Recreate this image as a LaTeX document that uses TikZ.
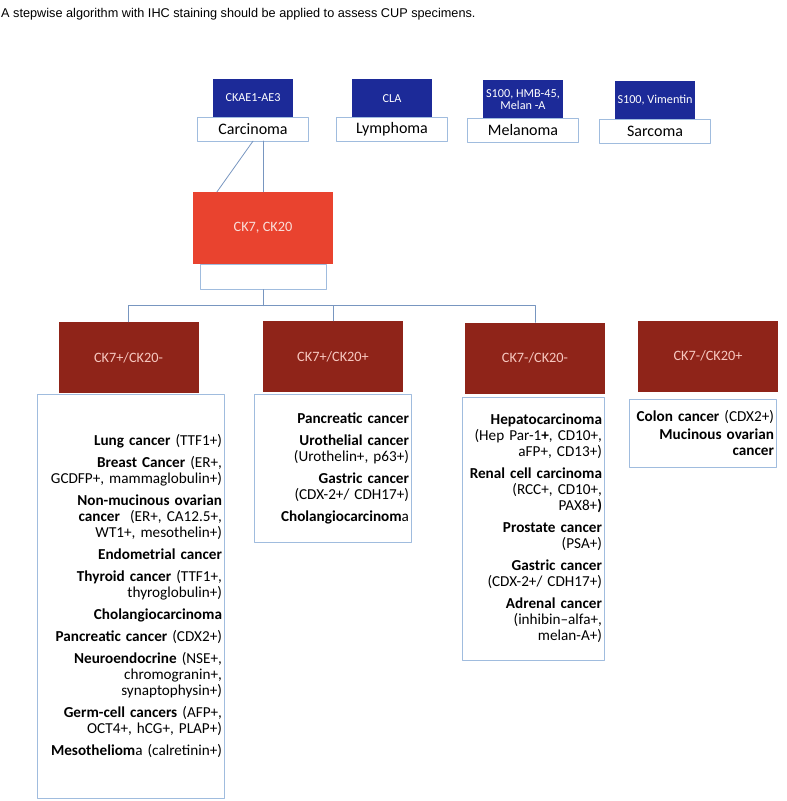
\documentclass[tikz,border=0pt]{standalone}
\usepackage{fontspec}
\setmainfont{Carlito}
\newfontfamily\titlefont{Liberation Sans}
\usetikzlibrary{positioning}
\definecolor{markerblue}{RGB}{28,42,152}
\definecolor{boxline}{RGB}{160,188,222}
\definecolor{linkblue}{RGB}{120,150,192}
\definecolor{ckred}{RGB}{233,67,47}
\definecolor{profilered}{RGB}{143,36,25}
\definecolor{profiletext}{RGB}{247,200,192}
\begin{document}
\begin{tikzpicture}[x=1pt, y=-1pt, line join=round, line cap=round]
	\tikzset{marker/.style={fill=markerblue, text=white, minimum width=80pt, minimum height=39pt, inner sep=0pt, align=center, font=\fontsize{12.2}{12}\selectfont},
		tumour/.style={draw=boxline, fill=white, minimum width=111pt, minimum height=24pt, inner sep=0pt, font=\fontsize{16}{18}\selectfont},
		profile/.style={fill=profilered, text=profiletext, minimum width=140pt, minimum height=71pt, inner sep=0pt, font=\fontsize{14.3}{16}\selectfont},
		listbox/.style={draw=boxline, fill=white, inner xsep=2pt, inner ysep=0pt, align=right, anchor=north, font=\fontsize{15.2}{16}\selectfont},
		link/.style={draw=linkblue, line width=0.8pt}}
	\useasboundingbox (0,0) rectangle (787,801);
	\node[anchor=west, inner sep=0pt, font=\titlefont\fontsize{12.7}{14}\selectfont] (title) at (1,14) {A stepwise algorithm with IHC staining should be applied to assess CUP specimens.};
	\node[marker] (ckae) at (253,98) {CKAE1-AE3};
	\node[marker] (cla) at (392,98.5) {CLA};
	\node[marker] (hmb) at (523,99.5) {S100, HMB-45,\\Melan -A};
	\node[marker] (vim) at (655,100.5) {S100, Vimentin};
	\node[tumour, below=-1pt of ckae] (carc) {Carcinoma};
	\node[tumour, below=-1pt of cla] (lymph) {Lymphoma};
	\node[tumour, below=-1pt of hmb] (mela) {Melanoma};
	\node[tumour, below=-1pt of vim] (sarc) {Sarcoma};
	\node[fill=ckred, text=profiletext!60!white, minimum width=140pt, minimum height=72pt, inner sep=0pt, font=\fontsize{14.3}{16}\selectfont] (ck) at (263,228) {CK7, CK20};
	\node[draw=boxline, fill=white, minimum width=126pt, minimum height=25pt, inner sep=0pt, below=0pt of ck] (ckbase) {};
	\node[profile] (pn) at (128.5,357.5) {CK7+/CK20-};
	\node[profile] (pp) at (333,356.5) {CK7+/CK20+};
	\node[profile] (nn) at (535,358) {CK7-/CK20-};
	\node[profile] (np) at (708,356) {CK7-/CK20+};
	\node[listbox, text width=183pt, minimum height=404pt] (pnlist) at (130.5,394) {\textbf{Lung cancer} (TTF1+)\\[6pt]
		\textbf{Breast Cancer} (ER+,\\GCDFP+, mammaglobulin+)\\[6pt]
		\textbf{Non-mucinous ovarian}\\\textbf{cancer}\ \ (ER+, CA12.5+,\\WT1+, mesothelin+)\\[6pt]
		\textbf{Endometrial cancer}\\[6pt]
		\textbf{Thyroid cancer} (TTF1+,\\thyroglobulin+)\\[6pt]
		\textbf{Cholangiocarcinoma}\\[6pt]
		\textbf{Pancreatic cancer} (CDX2+)\\[6pt]
		\textbf{Neuroendocrine} (NSE+,\\chromogranin+,\\synaptophysin+)\\[6pt]
		\textbf{Germ-cell cancers} (AFP+,\\OCT4+, hCG+, PLAP+)\\[6pt]
		\textbf{Mesotheliom}a (calretinin+)};
	\node[listbox, text width=153pt, minimum height=148pt] (pplist) at (332.5,394) {\textbf{Pancreatic cancer}\\[6pt]
		\textbf{Urothelial cancer}\\(Urothelin+, p63+)\\[6pt]
		\textbf{Gastric cancer}\\(CDX-2+/ CDH17+)\\[6pt]
		\textbf{Cholangiocarcinom}a};
	\node[listbox, text width=138pt, minimum height=263pt] (nnlist) at (533,397) {\textbf{Hepatocarcinoma}\\(Hep Par-1\textbf{+}, CD10+,\\aFP+, CD13+)\\[6pt]
		\textbf{Renal cell carcinoma}\\(RCC+, CD10+,\\PAX8+\textbf{)}\\[6pt]
		\textbf{Prostate cancer}\\(PSA+)\\[6pt]
		\textbf{Gastric cancer}\\(CDX-2+/ CDH17+)\\[6pt]
		\textbf{Adrenal cancer}\\(inhibin--alfa+,\\melan-A+)};
	\node[listbox, text width=143pt, minimum height=68pt] (nplist) at (702.5,399) {\textbf{Colon cancer} (CDX2+)\\[2pt]
		\textbf{Mucinous ovarian}\\\textbf{cancer}};
	\draw[link] (carc.south) -- ([xshift=-46pt]ck.north);
	\draw[link] (ck.north) -- (ck.north |- carc.south);
	\draw[link] (ckbase.south) -- ++(0,16) coordinate (split);
	\foreach \p in {pn,pp,nn}
		\draw[link] (split) -| (\p.north);
\end{tikzpicture}
\end{document}
